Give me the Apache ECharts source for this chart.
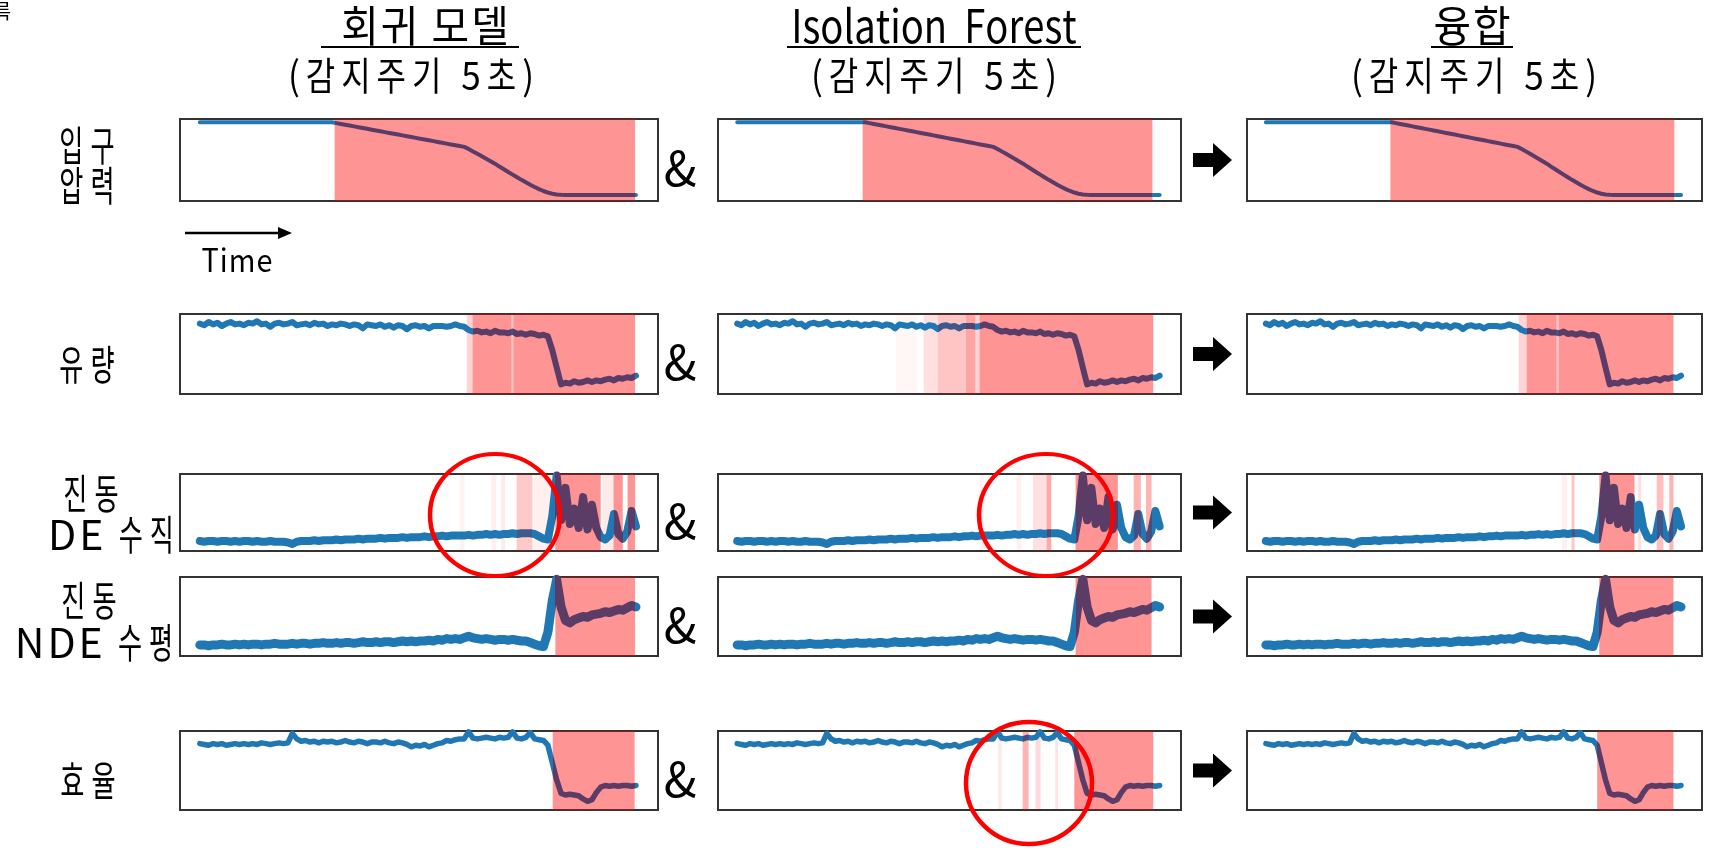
<!DOCTYPE html>
<html>
<head>
<meta charset="utf-8">
<script src="https://cdn.jsdelivr.net/npm/echarts@6/dist/echarts.min.js"></script>
<style>
  html, body { margin: 0; padding: 0; background: #fff; }
  #chart { width: 1729px; height: 850px; }
</style>
</head>
<body>
<div id="chart"></div>
<script>
// 센서 신호 (x: 시간 인덱스 0..99, y: 패널 안 정규화 값)
const inletPressure = [
  0.96,0.96,0.96,0.96,0.96,0.96,0.96,0.96,0.96,0.96,
  0.96,0.96,0.96,0.96,0.96,0.96,0.96,0.96,0.96,0.96,
  0.96,0.96,0.96,0.96,0.96,0.96,0.96,0.96,0.96,0.96,
  0.96,0.95,0.94,0.93,0.92,0.91,0.90,0.89,0.88,0.87,
  0.86,0.85,0.84,0.83,0.82,0.81,0.80,0.79,0.78,0.77,
  0.76,0.75,0.74,0.73,0.72,0.71,0.70,0.69,0.68,0.67,
  0.66,0.635,0.605,0.575,0.545,0.515,0.485,0.455,0.42,0.387,
  0.354,0.322,0.29,0.258,0.228,0.198,0.17,0.145,0.122,0.103,
  0.089,0.08,0.075,0.072,0.072,0.072,0.072,0.072,0.072,0.072,
  0.072,0.072,0.072,0.072,0.072,0.072,0.072,0.072,0.072,0.072
];
const flowRate = [
  0.88,0.86,0.90,0.87,0.89,0.85,0.88,0.90,0.87,0.88,
  0.86,0.89,0.88,0.91,0.87,0.88,0.84,0.88,0.89,0.87,
  0.88,0.90,0.86,0.87,0.88,0.86,0.89,0.87,0.88,0.85,
  0.87,0.86,0.88,0.87,0.85,0.87,0.86,0.82,0.87,0.86,
  0.85,0.87,0.84,0.86,0.83,0.86,0.85,0.81,0.85,0.86,
  0.84,0.85,0.82,0.85,0.85,0.85,0.84,0.85,0.87,0.85,
  0.84,0.80,0.78,0.79,0.77,0.78,0.76,0.79,0.77,0.77,
  0.76,0.78,0.75,0.76,0.74,0.76,0.75,0.73,0.74,0.72,
  0.55,0.33,0.12,0.14,0.13,0.16,0.14,0.15,0.17,0.15,
  0.17,0.16,0.18,0.19,0.17,0.20,0.19,0.21,0.20,0.23
];
const vibDeVertical = [
  0.13,0.12,0.13,0.13,0.12,0.13,0.13,0.12,0.13,0.12,
  0.13,0.13,0.12,0.13,0.12,0.12,0.13,0.12,0.12,0.12,
  0.11,0.09,0.12,0.13,0.13,0.13,0.14,0.13,0.14,0.14,
  0.14,0.15,0.14,0.15,0.15,0.15,0.16,0.15,0.16,0.16,
  0.16,0.17,0.16,0.17,0.17,0.17,0.18,0.17,0.18,0.18,
  0.18,0.19,0.18,0.19,0.19,0.20,0.19,0.20,0.20,0.20,
  0.20,0.21,0.20,0.21,0.21,0.22,0.21,0.22,0.21,0.22,
  0.22,0.23,0.22,0.23,0.23,0.23,0.22,0.19,0.16,0.15,
  0.45,0.98,0.40,0.82,0.35,0.55,0.30,0.70,0.28,0.60,
  0.30,0.18,0.15,0.20,0.48,0.22,0.16,0.25,0.52,0.32
];
const vibNdeHorizontal = [
  0.14,0.14,0.13,0.14,0.14,0.15,0.14,0.14,0.15,0.14,
  0.15,0.14,0.15,0.15,0.14,0.15,0.15,0.16,0.15,0.15,
  0.15,0.16,0.15,0.16,0.16,0.15,0.16,0.16,0.17,0.16,
  0.16,0.17,0.16,0.17,0.17,0.16,0.17,0.18,0.17,0.17,
  0.18,0.17,0.18,0.18,0.17,0.18,0.19,0.18,0.19,0.18,
  0.19,0.19,0.20,0.19,0.21,0.20,0.22,0.21,0.22,0.21,
  0.23,0.25,0.23,0.22,0.21,0.22,0.21,0.20,0.21,0.21,
  0.20,0.21,0.20,0.19,0.19,0.17,0.15,0.13,0.12,0.30,
  0.70,0.97,0.62,0.45,0.42,0.46,0.48,0.50,0.49,0.52,
  0.53,0.54,0.56,0.55,0.57,0.59,0.58,0.61,0.64,0.62
];
const efficiency = [
  0.84,0.83,0.82,0.84,0.83,0.84,0.82,0.83,0.84,0.83,
  0.84,0.83,0.84,0.83,0.85,0.84,0.83,0.84,0.85,0.84,
  0.85,0.97,0.90,0.87,0.88,0.86,0.87,0.85,0.87,0.86,
  0.87,0.85,0.86,0.88,0.86,0.85,0.87,0.86,0.84,0.86,
  0.86,0.85,0.87,0.85,0.84,0.86,0.85,0.83,0.80,0.82,
  0.81,0.83,0.80,0.82,0.84,0.85,0.88,0.87,0.89,0.90,
  0.90,0.99,0.91,0.90,0.91,0.92,0.91,0.90,0.92,0.91,
  0.92,0.99,0.91,0.90,0.92,0.98,0.90,0.89,0.88,0.82,
  0.60,0.38,0.21,0.19,0.20,0.19,0.18,0.14,0.11,0.13,
  0.22,0.29,0.31,0.30,0.31,0.30,0.31,0.31,0.30,0.31
];

const signals = [inletPressure, flowRate, vibDeVertical, vibNdeHorizontal, efficiency];
const rowLabels = [['입구', '압력'], ['유량'], ['진동', 'DE 수직'], ['진동', 'NDE 수평'], ['효율']];
const colTitles = ['회귀 모델', 'Isolation  Forest', '융합'];
const colSubtitle = '(감지주기 5초)';

// 이상 감지 구간 [시작, 끝, 감지 비율]
const regressionBands = [
  [[30.6, 98.8, 1]],
  [[60.6, 61.9, 0.4], [61.9, 70.7, 1], [70.7, 71.2, 0.6], [71.2, 98.8, 1]],
  [[59.0, 60.1, 0.12], [66.2, 67.3, 0.15], [68.4, 69.3, 0.2], [71.9, 75.5, 0.5], [75.8, 80.1, 0.15],
   [80.7, 91.0, 1], [91.4, 93.9, 0.2], [93.9, 96.0, 1], [97.1, 98.8, 1]],
  [[80.7, 98.8, 1]],
  [[80.1, 98.7, 1]]
];
const isoForestBands = [
  [[29.4, 97.3, 1]],
  [[37.2, 42.2, 0.08], [43.7, 47.0, 0.3], [47.0, 53.6, 0.55], [53.6, 55.8, 0.85], [55.8, 56.8, 0.4], [56.8, 97.5, 1]],
  [[56.8, 57.9, 0.1], [65.5, 66.6, 0.15], [69.3, 72.5, 0.3], [72.5, 73.6, 0.8], [79.3, 89.2, 1],
   [92.9, 94.6, 0.7], [95.8, 97.1, 0.7]],
  [[79.3, 97.1, 1]],
  [[61.1, 62.0, 0.2], [66.9, 68.3, 0.7], [69.9, 71.1, 0.35], [74.5, 75.2, 0.25], [79.0, 97.5, 1]]
];
const fusedBands = [
  [[29.7, 97.4, 1]],
  [[60.3, 62.2, 0.4], [62.2, 69.3, 1], [69.3, 69.9, 0.6], [69.9, 97.2, 1]],
  [[70.6, 71.8, 0.15], [72.9, 73.6, 0.55], [79.5, 87.9, 1], [88.7, 89.5, 0.3], [93.2, 94.8, 0.6], [96.2, 97.2, 0.7]],
  [[79.5, 97.2, 1]],
  [[79.0, 97.2, 1]]
];
const bandsByCol = [regressionBands, isoForestBands, fusedBands];

// layout
const colLeft = [180, 718, 1247];
const colWidth = [478, 463, 455];
const rowTop = [119, 314, 474, 577, 731];
const rowHeight = [82, 80, 77, 79, 79];
const lineWidths = [4, 6, 8, 9, 5.5];
const BLUE = '#1f77b4';
const PURPLE = '#5a3c66';
const FONT = 'Noto Sans CJK KR';

function mix(a, b, t) {
  const pa = [1, 3, 5].map(i => parseInt(a.substr(i, 2), 16));
  const pb = [1, 3, 5].map(i => parseInt(b.substr(i, 2), 16));
  return 'rgb(' + pa.map((v, i) => Math.round(v + (pb[i] - v) * t)).join(',') + ')';
}

const grids = [], xAxes = [], yAxes = [], series = [], visualMaps = [];
signals.forEach((sig, r) => {
  [0, 1, 2].forEach(c => {
    const idx = r * 3 + c;
    const bands = bandsByCol[c][r];
    grids.push({
      left: colLeft[c], top: rowTop[r], width: colWidth[c], height: rowHeight[r],
      show: true, borderColor: '#333', borderWidth: 2, backgroundColor: 'transparent'
    });
    xAxes.push({ gridIndex: idx, type: 'value', min: -4.5, max: 104, show: false });
    yAxes.push({ gridIndex: idx, type: 'value', min: 0, max: 1, show: false });
    series.push({
      type: 'line',
      xAxisIndex: idx, yAxisIndex: idx,
      data: sig.map((v, i) => [i, v]),
      symbol: 'none',
      lineStyle: { width: lineWidths[r], join: 'round', cap: 'round' },
      markArea: {
        silent: true,
        data: bands.map(b => [
          { xAxis: b[0], itemStyle: { color: 'rgba(255,0,0,' + (0.42 * b[2]).toFixed(3) + ')' } },
          { xAxis: b[1] }
        ])
      }
    });
    visualMaps.push({
      type: 'piecewise', show: false, seriesIndex: idx, dimension: 0,
      pieces: bands.filter(b => b[2] >= 0.5).map(b => ({ gte: b[0], lte: b[1], color: mix(BLUE, PURPLE, b[2]) })),
      outOfRange: { color: BLUE }
    });
  });
});

// text with letter spacing; hangul and other glyphs squeezed separately
const measureCtx = document.createElement('canvas').getContext('2d');
const isHangul = ch => /[\uac00-\ud7a3]/.test(ch);
function spacedText(str, cx, cy, size, gap, sx, sxOther, gapOther) {
  if (sxOther === undefined) sxOther = sx;
  if (gapOther === undefined) gapOther = gap;
  measureCtx.font = size + 'px "' + FONT + '"';
  const chars = Array.from(str);
  const scales = chars.map(ch => isHangul(ch) ? sx : sxOther);
  const ws = chars.map((ch, i) => measureCtx.measureText(ch).width * scales[i]);
  const gaps = chars.map((ch, i) => i === chars.length - 1 ? 0 :
    (isHangul(ch) && isHangul(chars[i + 1]) ? gap : gapOther));
  const total = ws.reduce((a, b) => a + b, 0) + gaps.reduce((a, b) => a + b, 0);
  let x = cx - total / 2;
  return chars.map((ch, i) => {
    const el = {
      type: 'text', x: x + ws[i] / 2, y: cy, scaleX: scales[i], z: 20,
      style: { text: ch, fontSize: size, fontFamily: FONT, fill: '#000', align: 'center', verticalAlign: 'middle' }
    };
    x += ws[i] + gaps[i];
    return el;
  });
}

const graphics = [];
const titleCx = [425, 934, 1472];
const lineCx = [420, 934, 1472];
const titleHalf = [99, 147, 41];
colTitles.forEach((t, c) => {
  if (c === 1) graphics.push(...spacedText(t, titleCx[c], 26, 46, 0, 0.83));
  else graphics.push(...spacedText(t, titleCx[c], 26, 43, 2, 0.95));
  graphics.push({ type: 'line', z: 20, shape: { x1: lineCx[c] - titleHalf[c], y1: 47, x2: lineCx[c] + titleHalf[c], y2: 47 },
    style: { stroke: '#000', lineWidth: 2 } });
  graphics.push(...spacedText(colSubtitle, [411, 934, 1474][c], 75, 39, 6, 0.82, 0.9));
});

// row labels
const labelPos = [[[87, 145], [87, 185]], [[87, 364]], [[91, 493], [111, 534]], [[89, 600], [94, 642]], [[88, 780]]];
rowLabels.forEach((lines, r) => {
  lines.forEach((l, k) => {
    graphics.push(...spacedText(l, labelPos[r][k][0], labelPos[r][k][1], 41, 7, 0.64, 1, 3));
  });
});

// '&' and arrows between columns
rowTop.forEach((t, r) => {
  const cy = t + rowHeight[r] / 2;
  graphics.push({ type: 'text', x: 680, y: cy + 8, z: 20,
    style: { text: '&', fontSize: 48, fontFamily: FONT, fill: '#000', align: 'center', verticalAlign: 'middle' } });
  graphics.push({ type: 'polygon', x: 1193, y: cy, z: 20,
    shape: { points: [[0, -7], [20, -7], [20, -17], [39, 0], [20, 17], [20, 7], [0, 7]] },
    style: { fill: '#000' } });
});

// time arrow
graphics.push({ type: 'line', z: 20, shape: { x1: 185, y1: 233, x2: 282, y2: 233 }, style: { stroke: '#000', lineWidth: 2.5 } });
graphics.push({ type: 'polygon', z: 20, shape: { points: [[278, 227], [292, 233], [278, 239]] }, style: { fill: '#000' } });
graphics.push(...spacedText('Time', 237, 260, 32, 1, 0.9));

// cut-off glyph at the top-left corner
graphics.push({ type: 'text', x: 2, y: 11, z: 20,
  style: { text: '륵', fontSize: 20, fontFamily: FONT, fill: '#000', align: 'center', verticalAlign: 'middle' } });

// red circles
[[495, 515, 65, 61], [1046, 515, 67, 61], [1029, 783, 63, 61]].forEach(e => {
  graphics.push({ type: 'circle', x: e[0], y: e[1], scaleY: e[3] / e[2], z: 30,
    shape: { cx: 0, cy: 0, r: e[2] }, style: { fill: 'transparent', stroke: '#ff0000', lineWidth: 4.5 } });
});

const chart = echarts.init(document.getElementById('chart'));
chart.setOption({
  animation: false,
  grid: grids,
  xAxis: xAxes,
  yAxis: yAxes,
  visualMap: visualMaps,
  series: series,
  graphic: { elements: graphics }
});
window.addEventListener('resize', () => chart.resize());
</script>
</body>
</html>
